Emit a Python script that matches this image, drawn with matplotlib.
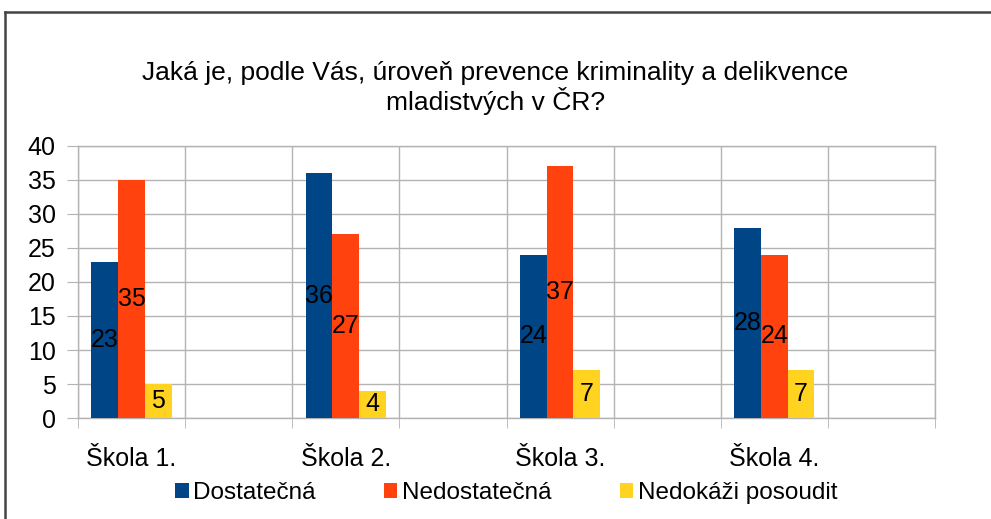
import matplotlib
matplotlib.use("Agg")
import matplotlib.pyplot as plt
from matplotlib.lines import Line2D
import numpy as np

plt.rcParams['font.family'] = ['Liberation Sans', 'DejaVu Sans']

# data
skoly = ['Škola 1.', 'Škola 2.', 'Škola 3.', 'Škola 4.']
dostatecna = [23, 36, 24, 28]
nedostatecna = [35, 27, 37, 24]
nedokazi = [5, 4, 7, 7]
serie = ['Dostatečná', 'Nedostatečná', 'Nedokáži posoudit']
barvy = ['#004586', '#ff420e', '#ffd320']

fig = plt.figure(figsize=(9.91, 5.19), dpi=100)
ax = fig.add_axes([0.0787, 0.1946, 0.8648, 0.5241])

# every school takes two category slots, the second one is empty
x = np.arange(len(skoly)) * 2
w = 0.25
for i, (vals, name, c) in enumerate(zip([dostatecna, nedostatecna, nedokazi], serie, barvy)):
    pos = x + (i - 1) * w
    bars = ax.bar(pos, vals, w, color=c, label=name, zorder=3)
    for b, v in zip(bars, vals):
        ax.text(b.get_x() + b.get_width() / 2, v / 2, str(v), ha='center', va='center',
                fontsize=18, color='black', zorder=4)

grid_c = '#b3b3b3'
ax.set_xlim(-0.5, 7.5)
ax.set_ylim(0, 40)
ax.set_yticks(range(0, 41, 5))
ax.set_xticks(x)
ax.set_xticklabels(skoly, fontsize=18)
ax.set_xticks(np.arange(-0.5, 8, 1), minor=True)
ax.tick_params(axis='x', which='major', length=0, pad=21)
ax.tick_params(axis='x', which='minor', length=7, color=grid_c, direction='out')
ax.tick_params(axis='y', length=8, color=grid_c, labelsize=18, pad=8)
ax.grid(axis='y', color=grid_c, linewidth=1, zorder=0)
ax.grid(axis='x', which='minor', color=grid_c, linewidth=1, zorder=0)
for s in ax.spines.values():
    s.set_color(grid_c)
    s.set_linewidth(1)

fig.text(0.5, 0.830, 'Jaká je, podle Vás, úroveň prevence kriminality a delikvence\nmladistvých v ČR?',
         ha='center', va='center', fontsize=19, linespacing=1.1)

fig.legend(loc='center', bbox_to_anchor=(0.511, 0.05), ncol=3, frameon=False, fontsize=17.5,
           handlelength=0.55, handleheight=0.55, handletextpad=0.2, columnspacing=2.8)

# frame of the chart object
fig.add_artist(Line2D([5 / 991, 5 / 991], [0, 1 - 12 / 519], color='#444444', linewidth=1.8))
fig.add_artist(Line2D([5 / 991, 1], [1 - 12 / 519, 1 - 12 / 519], color='#444444', linewidth=1.8))

fig.savefig('out.png', dpi=100)
